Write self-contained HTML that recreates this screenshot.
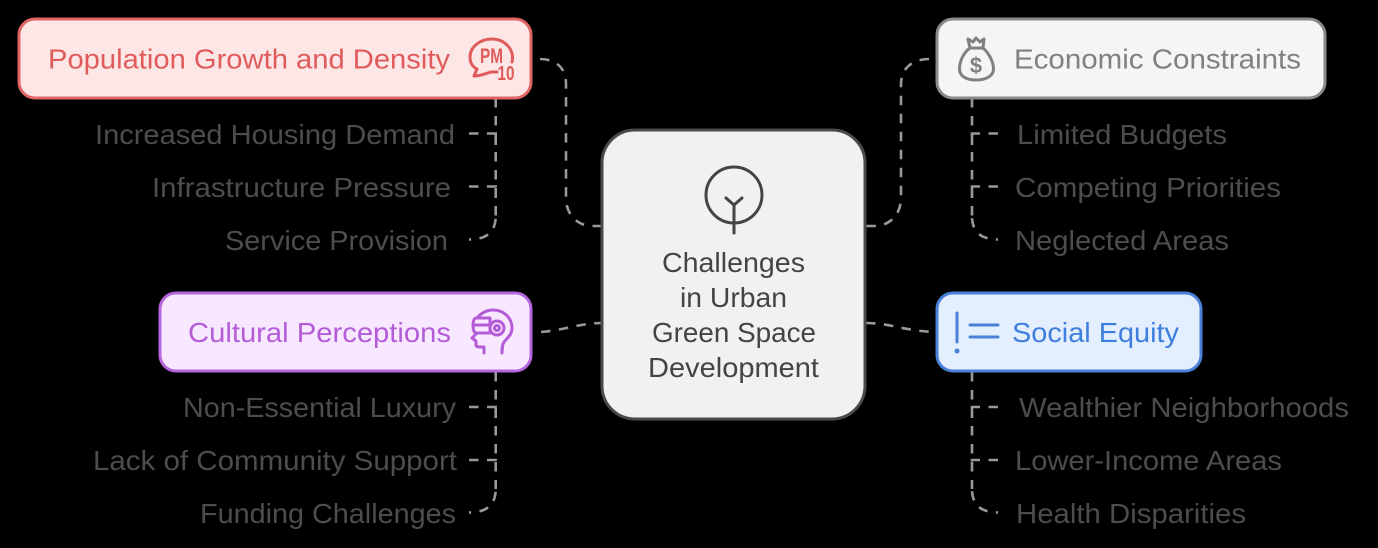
<!DOCTYPE html>
<html>
<head>
<meta charset="utf-8">
<style>
html,body{margin:0;padding:0;background:#000;width:1378px;height:548px;overflow:hidden}
svg{display:block}
text{font-family:"Liberation Sans",sans-serif;font-size:28px}
.l{fill:#4d4d4d}
.c{fill:#444;font-size:27.5px}
.d{fill:none;stroke:#999;stroke-width:2.6;stroke-dasharray:9.5 8.5}
.e{fill:none;stroke:#999;stroke-width:2.6;stroke-dasharray:9.5 8.5;stroke-dashoffset:7.5}
.i{fill:none;stroke-width:3;stroke-linecap:round;stroke-linejoin:round}
</style>
</head>
<body>
<svg width="1378" height="548" viewBox="0 0 1378 548" xmlns="http://www.w3.org/2000/svg">
<rect width="1378" height="548" fill="#000"/>

<!-- connectors -->
<path class="d" d="M540,59 C556,59 566,68 566,84 V198 C566,215 578,226 592,226 H602"/>
<path class="d" d="M929,59 C913,59 901,68 901,84 V198 C901,215 889,226 875,226 H866"/>
<path class="d" d="M541,332 C565,330 580,323 602,323"/>
<path class="d" d="M866,323 C890,323 905,331 935,332"/>

<path class="d" d="M495.7,98 V216"/>
<path class="e" d="M469,239.5 Q495.7,239.5 495.7,216"/>
<path class="d" d="M469,133.5 H495.7 V145"/>
<path class="d" d="M469,186.5 H495.7 V198"/>
<path class="d" d="M495.7,372 V489"/>
<path class="e" d="M469,512.5 Q495.7,512.5 495.7,489"/>
<path class="d" d="M469,407 H495.7 V418"/>
<path class="d" d="M469,460 H495.7 V471"/>

<path class="d" d="M972,98 V216"/>
<path class="e" d="M998,239.5 Q972,239.5 972,216"/>
<path class="d" d="M998,133.5 H972 V145"/>
<path class="d" d="M998,186.5 H972 V198"/>
<path class="d" d="M972,372 V489"/>
<path class="e" d="M998,512.5 Q972,512.5 972,489"/>
<path class="d" d="M998,407 H972 V418"/>
<path class="d" d="M998,460 H972 V471"/>

<!-- center -->
<rect x="602" y="130" width="263" height="289" rx="33" fill="#f1f1f1" stroke="#4a4a4a" stroke-width="3"/>
<g class="i" stroke="#444">
<circle cx="734" cy="195" r="28"/>
<path d="M734,205 V233 M726,198 L734,205 L742,198"/>
</g>
<text class="c" x="662" y="272" textLength="143" lengthAdjust="spacingAndGlyphs">Challenges</text>
<text class="c" x="680" y="307" textLength="107" lengthAdjust="spacingAndGlyphs">in Urban</text>
<text class="c" x="652" y="342" textLength="164" lengthAdjust="spacingAndGlyphs">Green Space</text>
<text class="c" x="648" y="377" textLength="171" lengthAdjust="spacingAndGlyphs">Development</text>

<!-- red -->
<rect x="19" y="19" width="512" height="79" rx="16" fill="#fde6e6" stroke="#e06666" stroke-width="3"/>
<text x="48" y="68.5" fill="#e05c5c" textLength="402" lengthAdjust="spacingAndGlyphs">Population Growth and Density</text>
<path class="i" stroke="#e05c5c" d="M512,62 C515,49 504,39 492,39 C480,39 470,47 470,57 C470,63 473,67 477,69 L474,76 C481,76 487,73 491,72 L497,72"/>
<text x="480" y="63" fill="#e05c5c" style="font-size:21px;font-weight:bold" textLength="23" lengthAdjust="spacingAndGlyphs">PM</text>
<text x="497.5" y="80" fill="#e05c5c" style="font-size:20px;font-weight:bold" textLength="17" lengthAdjust="spacingAndGlyphs">10</text>

<!-- gray -->
<rect x="937" y="19" width="388" height="79" rx="16" fill="#f5f5f5" stroke="#8a8a8a" stroke-width="3"/>
<text x="1014" y="68.5" fill="#808080" textLength="287" lengthAdjust="spacingAndGlyphs">Economic Constraints</text>
<g class="i" stroke="#808080">
<path d="M970,48 C963,53 959.5,62 959.5,69 C959.5,76 966,80 976,80 C986,80 993.5,76 993.5,69 C993.5,62 989,53 983,48 Z"/>
<path d="M970,48 L968,39 L973,42 L976,38 L980,42 L984,39 L983,48"/>
</g>
<text x="976" y="73" fill="#808080" text-anchor="middle" style="font-size:22px;font-weight:bold">$</text>

<!-- purple -->
<rect x="160" y="293" width="371" height="78" rx="16" fill="#f8e8ff" stroke="#b566dc" stroke-width="3"/>
<text x="188" y="342" fill="#b45cd8" textLength="263" lengthAdjust="spacingAndGlyphs">Cultural Perceptions</text>
<g class="i" stroke="#b45cd8">
<path d="M477,318 C481,313 487,310 493,310 C504,310 512,318 512,328 C512,335 507,338 504,342 C502,345 502,349 502,353"/>
<path d="M476,318 H490 V333 H476 C472,333 472,318 476,318 Z"/>
<path d="M474,325 H488"/>
<circle cx="497" cy="328" r="7"/>
<circle cx="497" cy="328" r="2.5"/>
<path d="M477,333 L472,338 L476,341 V345 C476,347 478,347 484,347 V353"/>
</g>

<!-- blue -->
<rect x="937" y="293" width="264" height="78" rx="16" fill="#e3eeff" stroke="#4a80d8" stroke-width="3"/>
<text x="1012" y="342" fill="#3f7fdc" textLength="167" lengthAdjust="spacingAndGlyphs">Social Equity</text>
<g class="i" stroke="#4a80d8">
<path d="M957,313 V342 M970,325 H998 M970,337 H998"/>
</g>
<circle cx="957" cy="351" r="2.5" fill="#4a80d8"/>

<!-- labels -->
<text class="l" x="95" y="144" textLength="360" lengthAdjust="spacingAndGlyphs">Increased Housing Demand</text>
<text class="l" x="152" y="197" textLength="299" lengthAdjust="spacingAndGlyphs">Infrastructure Pressure</text>
<text class="l" x="225" y="250" textLength="223" lengthAdjust="spacingAndGlyphs">Service Provision</text>
<text class="l" x="183" y="417" textLength="273" lengthAdjust="spacingAndGlyphs">Non-Essential Luxury</text>
<text class="l" x="93" y="470" textLength="364" lengthAdjust="spacingAndGlyphs">Lack of Community Support</text>
<text class="l" x="200" y="523" textLength="256" lengthAdjust="spacingAndGlyphs">Funding Challenges</text>
<text class="l" x="1017" y="144" textLength="210" lengthAdjust="spacingAndGlyphs">Limited Budgets</text>
<text class="l" x="1015" y="197" textLength="266" lengthAdjust="spacingAndGlyphs">Competing Priorities</text>
<text class="l" x="1015" y="250" textLength="214" lengthAdjust="spacingAndGlyphs">Neglected Areas</text>
<text class="l" x="1019" y="417" textLength="330" lengthAdjust="spacingAndGlyphs">Wealthier Neighborhoods</text>
<text class="l" x="1015" y="470" textLength="267" lengthAdjust="spacingAndGlyphs">Lower-Income Areas</text>
<text class="l" x="1016" y="523" textLength="230" lengthAdjust="spacingAndGlyphs">Health Disparities</text>
</svg>
</body>
</html>
